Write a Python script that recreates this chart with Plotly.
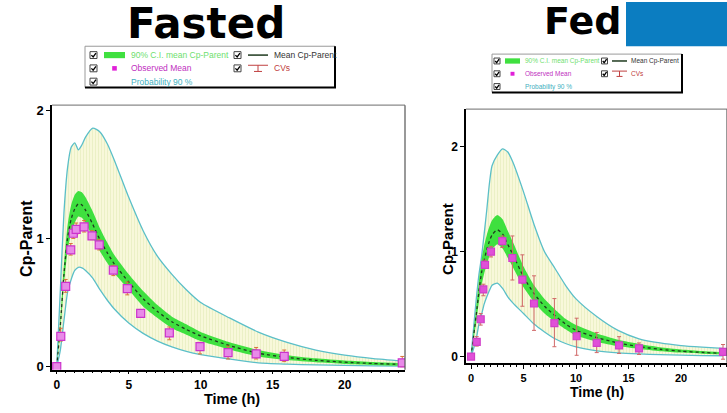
import plotly.graph_objects as go

W, H = 727, 413

# ---------------- data ----------------
t_grid = [0, 0.25, 0.5, 0.75, 1, 1.25, 1.5, 1.75, 2, 2.5, 3, 3.5, 4, 5, 6, 7, 8, 9, 10, 12, 14, 16, 18, 20, 22, 24]

# Fasted
fasted_mean = [0, 0.32, 0.72, 1.0, 1.15, 1.23, 1.27, 1.26, 1.22, 1.11, 0.99, 0.89, 0.80, 0.66, 0.53, 0.43, 0.35, 0.29, 0.24, 0.165, 0.105, 0.072, 0.05, 0.035, 0.025, 0.018]
fasted_ci_hi = [0, 0.36, 0.8, 1.1, 1.26, 1.34, 1.37, 1.36, 1.32, 1.21, 1.08, 0.97, 0.87, 0.72, 0.59, 0.48, 0.39, 0.33, 0.27, 0.19, 0.13, 0.09, 0.065, 0.048, 0.036, 0.028]
fasted_ci_lo = [0, 0.28, 0.64, 0.9, 1.04, 1.12, 1.17, 1.16, 1.12, 1.01, 0.9, 0.81, 0.73, 0.6, 0.47, 0.38, 0.30, 0.25, 0.20, 0.135, 0.08, 0.052, 0.035, 0.022, 0.014, 0.008]
fasted_p_hi = [0, 0.6, 1.2, 1.55, 1.71, 1.745, 1.69, 1.73, 1.79, 1.86, 1.83, 1.74, 1.61, 1.32, 1.06, 0.86, 0.72, 0.6, 0.5, 0.38, 0.27, 0.19, 0.13, 0.09, 0.063, 0.045]
fasted_p_lo = [0, 0.13, 0.36, 0.58, 0.68, 0.75, 0.775, 0.77, 0.75, 0.69, 0.6, 0.52, 0.45, 0.34, 0.26, 0.2, 0.155, 0.12, 0.095, 0.06, 0.03, 0.02, 0.014, 0.01, 0.007, 0.005]

fasted_obs_t = [0, 0.28, 0.62, 0.97, 1.15, 1.35, 1.9, 2.45, 2.95, 3.93, 4.9, 5.83, 7.82, 9.95, 11.9, 13.85, 15.8, 24]
fasted_obs_v = [0, 0.237, 0.626, 0.91, 1.04, 1.07, 1.09, 1.02, 0.95, 0.753, 0.608, 0.416, 0.263, 0.156, 0.11, 0.1, 0.08, 0.03]
fasted_obs_hi = [0, 0.3, 0.68, 0.96, 1.09, 1.12, 1.14, 1.06, 0.99, 0.79, 0.66, 0.44, 0.31, 0.19, 0.16, 0.15, 0.13, 0.08]
fasted_obs_lo = [0, 0.2, 0.58, 0.87, 1.0, 1.03, 1.05, 0.99, 0.91, 0.71, 0.56, 0.39, 0.21, 0.10, 0.06, 0.06, 0.04, 0.0]

# Fed
fed_mean = [0, 0.2, 0.4, 0.62, 0.8, 0.92, 1.02, 1.1, 1.16, 1.21, 1.17, 1.07, 0.97, 0.76, 0.6, 0.48, 0.39, 0.31, 0.25, 0.18, 0.13, 0.095, 0.07, 0.052, 0.04, 0.03]
fed_ci_hi = [0, 0.24, 0.47, 0.72, 0.92, 1.06, 1.16, 1.24, 1.3, 1.35, 1.31, 1.2, 1.09, 0.86, 0.68, 0.55, 0.45, 0.36, 0.3, 0.22, 0.16, 0.12, 0.09, 0.068, 0.053, 0.042]
fed_ci_lo = [0, 0.16, 0.33, 0.52, 0.68, 0.79, 0.88, 0.96, 1.02, 1.07, 1.03, 0.94, 0.85, 0.66, 0.52, 0.41, 0.33, 0.26, 0.2, 0.14, 0.1, 0.072, 0.052, 0.038, 0.028, 0.02]
fed_p_hi = [0, 0.28, 0.55, 0.78, 0.95, 1.17, 1.4, 1.65, 1.82, 1.92, 1.98, 1.95, 1.85, 1.57, 1.26, 1.0, 0.84, 0.68, 0.55, 0.38, 0.25, 0.17, 0.13, 0.105, 0.09, 0.078]
fed_p_lo = [0, 0.08, 0.17, 0.31, 0.4, 0.5, 0.57, 0.63, 0.68, 0.7, 0.65, 0.57, 0.51, 0.41, 0.31, 0.235, 0.17, 0.125, 0.092, 0.055, 0.035, 0.025, 0.019, 0.014, 0.01, 0.008]

fed_obs_t = [0, 0.54, 0.92, 1.17, 1.33, 1.9, 2.98, 3.94, 4.89, 6.0, 7.94, 10.06, 11.97, 14.1, 16.0, 24]
fed_obs_v = [0, 0.14, 0.356, 0.64, 0.875, 1.0, 1.1, 0.94, 0.734, 0.506, 0.319, 0.194, 0.131, 0.106, 0.078, 0.044]
fed_obs_hi = [0, 0.19, 0.41, 0.69, 0.92, 1.05, 1.15, 1.15, 0.97, 0.77, 0.553, 0.366, 0.23, 0.19, 0.13, 0.115]
fed_obs_lo = [0, 0.1, 0.3, 0.58, 0.84, 0.95, 1.04, 0.73, 0.48, 0.25, 0.094, 0.0125, 0.038, 0.03, 0.02, -0.025]

x_ticks = [0, 5, 10, 15, 20]
y_ticks = [0, 1, 2]

legend_labels = ["90% C.I. mean Cp-Parent", "Observed Mean", "Probability 90 %", "Mean Cp-Parent", "CVs"]
titles = ["Fasted", "Fed"]

# ---------------- styles ----------------
CYAN = "#5BBFC8"
GREEN = "#3FE03F"
MEANC = "#1F3A1F"


def X(p):
    return p / W


def Y(p):
    return 1 - p / H


fig = go.Figure()


def add_panel(xa, ya, mean, ci_hi, ci_lo, p_hi, p_lo, ot, ov, ohi, olo, msize, mfill, mline, ecol):
    common = dict(xaxis=xa, yaxis=ya, hoverinfo="skip", showlegend=False)
    fig.add_trace(go.Scatter(x=t_grid, y=p_lo, mode="lines", line=dict(color=CYAN, width=1.3, shape="spline", smoothing=0.6), **common))
    fig.add_trace(go.Scatter(x=t_grid, y=p_hi, mode="lines", fill="tonexty", fillcolor="#F7F7D6",
                             fillpattern=dict(shape="|", bgcolor="#F8F8DA", fgcolor="#DCE8AE", size=3, solidity=0.3),
                             line=dict(color=CYAN, width=1.3, shape="spline", smoothing=0.6), **common))
    fig.add_trace(go.Scatter(x=t_grid, y=ci_lo, mode="lines", line=dict(color=GREEN, width=0, shape="spline", smoothing=0.6), **common))
    fig.add_trace(go.Scatter(x=t_grid, y=ci_hi, mode="lines", fill="tonexty", fillcolor=GREEN,
                             line=dict(color=GREEN, width=0, shape="spline", smoothing=0.6), **common))
    fig.add_trace(go.Scatter(x=t_grid, y=mean, mode="lines", line=dict(color=MEANC, width=1.3, dash="dot", shape="spline", smoothing=0.6), **common))
    fig.add_trace(go.Scatter(x=ot, y=ov, mode="markers",
                             marker=dict(symbol="square", size=msize, color=mfill, line=dict(color=mline, width=1.2)),
                             error_y=dict(type="data", symmetric=False,
                                          array=[h - v for h, v in zip(ohi, ov)],
                                          arrayminus=[v - l for v, l in zip(ov, olo)],
                                          color=ecol, thickness=1, width=2),
                             **common))


add_panel("x", "y", fasted_mean, fasted_ci_hi, fasted_ci_lo, fasted_p_hi, fasted_p_lo,
          fasted_obs_t, fasted_obs_v, fasted_obs_hi, fasted_obs_lo, 8, "#E88AE8", "#CC33CC", "#D9743A")
add_panel("x2", "y2", fed_mean, fed_ci_hi, fed_ci_lo, fed_p_hi, fed_p_lo,
          fed_obs_t, fed_obs_v, fed_obs_hi, fed_obs_lo, 7, "#E050D8", "#D040C8", "#D06868")

# panel geometry in pixels
L = dict(x0=52, x1=405, y0=105, y1=374)
R = dict(x0=466, x1=727, y0=109, y1=367)

FAM = "Liberation Sans, Arial, sans-serif"
axfont_l = dict(family=FAM, size=12, color="black", weight="bold")
axfont_ly = dict(family=FAM, size=13, color="black", weight="bold")
axfont_r = dict(family=FAM, size=11, color="black", weight="bold")
axfont_ry = dict(family=FAM, size=12, color="black", weight="bold")

base_ax = dict(showgrid=False, zeroline=False, showline=True, linecolor="black", linewidth=1.5,
               ticks="outside", tickwidth=1.2, tickcolor="black")

fig.update_layout(
    width=W, height=H, margin=dict(l=0, r=0, t=0, b=0),
    paper_bgcolor="white", plot_bgcolor="white", showlegend=False,
    xaxis=dict(domain=[X(L["x0"]), X(L["x1"])], range=[-0.33, 24.19], anchor="y", ticklen=3,
               tickvals=x_ticks, tickfont=axfont_l,
               minor=dict(dtick=0.625, tick0=0, ticks="outside", ticklen=2, tickcolor="black"), **base_ax),
    yaxis=dict(domain=[Y(L["y1"]), Y(L["y0"])], range=[-0.023, 2.038], anchor="x", ticklen=4,
               tickvals=y_ticks, tickfont=axfont_ly, **base_ax),
    xaxis2=dict(domain=[X(R["x0"]), X(R["x1"])], range=[-0.48, 24.38], anchor="y2", ticklen=4,
                tickvals=x_ticks, tickfont=axfont_r,
                minor=dict(dtick=0.625, tick0=0, ticks="outside", ticklen=2, tickcolor="black"), **base_ax),
    yaxis2=dict(domain=[Y(R["y1"]), Y(R["y0"])], range=[-0.059, 2.359], anchor="x2", ticklen=4,
                tickvals=y_ticks, tickfont=axfont_ry, **base_ax),
)

shapes = []
ann = []

# plot frames (gray top/right)
for P in (L, R):
    shapes.append(dict(type="line", xref="paper", yref="paper", x0=X(P["x0"]), x1=X(P["x1"]), y0=Y(P["y0"]), y1=Y(P["y0"]),
                       line=dict(color="#8A8A8A", width=1.2), layer="above"))
    shapes.append(dict(type="line", xref="paper", yref="paper", x0=X(P["x1"]), x1=X(P["x1"]), y0=Y(P["y0"]), y1=Y(P["y1"]),
                       line=dict(color="#555555", width=1.2), layer="above"))

# blue box top-right
shapes.append(dict(type="rect", xref="paper", yref="paper", x0=X(626), x1=X(727), y0=Y(45), y1=Y(0),
                   fillcolor="#0B7DC1", line=dict(width=0)))

# titles
ann.append(dict(text="<b>" + titles[0] + "</b>", x=X(206), y=Y(21.5), xref="paper", yref="paper", showarrow=False,
                xanchor="center", yanchor="middle", font=dict(family="DejaVu Sans", size=42, color="black")))
ann.append(dict(text="<b>" + titles[1] + "</b>", x=X(582), y=Y(19), xref="paper", yref="paper", showarrow=False,
                xanchor="center", yanchor="middle", font=dict(family="DejaVu Sans", size=38, color="black")))

# axis titles
ann.append(dict(text="<b>Cp-Parent</b>", x=X(27), y=Y(241), xref="paper", yref="paper", showarrow=False, textangle=-90,
                xanchor="center", yanchor="middle", font=dict(family=FAM, size=16, color="black")))
ann.append(dict(text="<b>Time (h)</b>", x=X(232), y=0, xref="paper", yref="paper", showarrow=False,
                xanchor="center", yanchor="bottom", borderpad=0, font=dict(family=FAM, size=14.5, color="black")))
ann.append(dict(text="<b>Cp-Parent</b>", x=X(448), y=Y(241), xref="paper", yref="paper", showarrow=False, textangle=-90,
                xanchor="center", yanchor="middle", font=dict(family=FAM, size=15, color="black")))
ann.append(dict(text="<b>Time (h)</b>", x=X(597), y=Y(397), xref="paper", yref="paper", showarrow=False,
                xanchor="center", yanchor="middle", font=dict(family=FAM, size=14, color="black")))


def legend(bx0, bx1, by0, by1, rows, c1_chk, c1_sw0, c1_sw1, c1_txt, c2_chk, c2_sw0, c2_sw1, c2_txt, fs, chk):
    shapes.append(dict(type="rect", xref="paper", yref="paper", x0=X(bx0), x1=X(bx1), y0=Y(by1), y1=Y(by0),
                       fillcolor="white", line=dict(color="#9A9A9A", width=1)))
    shapes.append(dict(type="line", xref="paper", yref="paper", x0=X(bx0), x1=X(bx1 + 1), y0=Y(by1), y1=Y(by1),
                       line=dict(color="black", width=2)))
    shapes.append(dict(type="line", xref="paper", yref="paper", x0=X(bx1), x1=X(bx1), y0=Y(by0), y1=Y(by1),
                       line=dict(color="black", width=2)))

    def checkbox(cx, cy):
        h = chk / 2
        shapes.append(dict(type="rect", xref="paper", yref="paper", x0=X(cx - h), x1=X(cx + h), y0=Y(cy + h), y1=Y(cy - h),
                           fillcolor="white", line=dict(color="#444444", width=1)))
        path = f"M {X(cx - h * 0.6)},{Y(cy)} L {X(cx - h * 0.1)},{Y(cy + h * 0.55)} L {X(cx + h * 0.7)},{Y(cy - h * 0.6)}"
        shapes.append(dict(type="path", xref="paper", yref="paper", path=path, line=dict(color="black", width=1.3)))

    for r in rows:
        checkbox(c1_chk, r)
    checkbox(c2_chk, rows[0])
    checkbox(c2_chk, rows[1])
    sh = chk * 0.45
    # green swatch
    shapes.append(dict(type="rect", xref="paper", yref="paper", x0=X(c1_sw0), x1=X(c1_sw1), y0=Y(rows[0] + sh), y1=Y(rows[0] - sh),
                       fillcolor=GREEN, line=dict(width=0)))
    # magenta square
    mc = (c1_sw0 + c1_sw1) / 2
    ms = chk * 0.33
    shapes.append(dict(type="rect", xref="paper", yref="paper", x0=X(mc - ms), x1=X(mc + ms), y0=Y(rows[1] + ms), y1=Y(rows[1] - ms),
                       fillcolor="#E020D8", line=dict(width=0)))
    # mean line
    shapes.append(dict(type="line", xref="paper", yref="paper", x0=X(c2_sw0), x1=X(c2_sw1), y0=Y(rows[0]), y1=Y(rows[0]),
                       line=dict(color=MEANC, width=1.5)))
    # CVs icon
    cm = (c2_sw0 + c2_sw1) / 2
    top = rows[1] - sh
    bot = rows[1] + sh
    for (xa0, xa1, ya0, ya1) in [(c2_sw0, c2_sw1, top, top), (cm, cm, top, bot), (cm - (c2_sw1 - c2_sw0) * 0.2, cm + (c2_sw1 - c2_sw0) * 0.2, bot, bot)]:
        shapes.append(dict(type="line", xref="paper", yref="paper", x0=X(xa0), x1=X(xa1), y0=Y(ya0), y1=Y(ya1),
                           line=dict(color="#C04040", width=1)))
    items = [(legend_labels[0], c1_txt, rows[0], "#6EE06E"),
             (legend_labels[1], c1_txt, rows[1], "#C030C0"),
             (legend_labels[2], c1_txt, rows[2], "#3FB0C0"),
             (legend_labels[3], c2_txt, rows[0], "#333333"),
             (legend_labels[4], c2_txt, rows[1], "#C04040")]
    for txt, tx, ty, col in items:
        ann.append(dict(text=txt, x=X(tx), y=Y(ty), xref="paper", yref="paper", showarrow=False,
                        xanchor="left", yanchor="middle", font=dict(family=FAM, size=fs, color=col)))


legend(85, 335, 45, 87, [54, 67.5, 81], 93.5, 104, 125, 129, 237.5, 248, 268, 272, 8.5, 7)
legend(492, 682, 53, 92, [60, 73, 86], 497, 505, 520, 523, 604.5, 612, 627, 629, 6.5, 6)

fig.update_layout(shapes=shapes, annotations=ann)

fig.write_html("out.html", config={"displayModeBar": False},
               post_script="document.body.style.margin='0';document.body.style.padding='0';document.body.style.overflow='hidden';")
